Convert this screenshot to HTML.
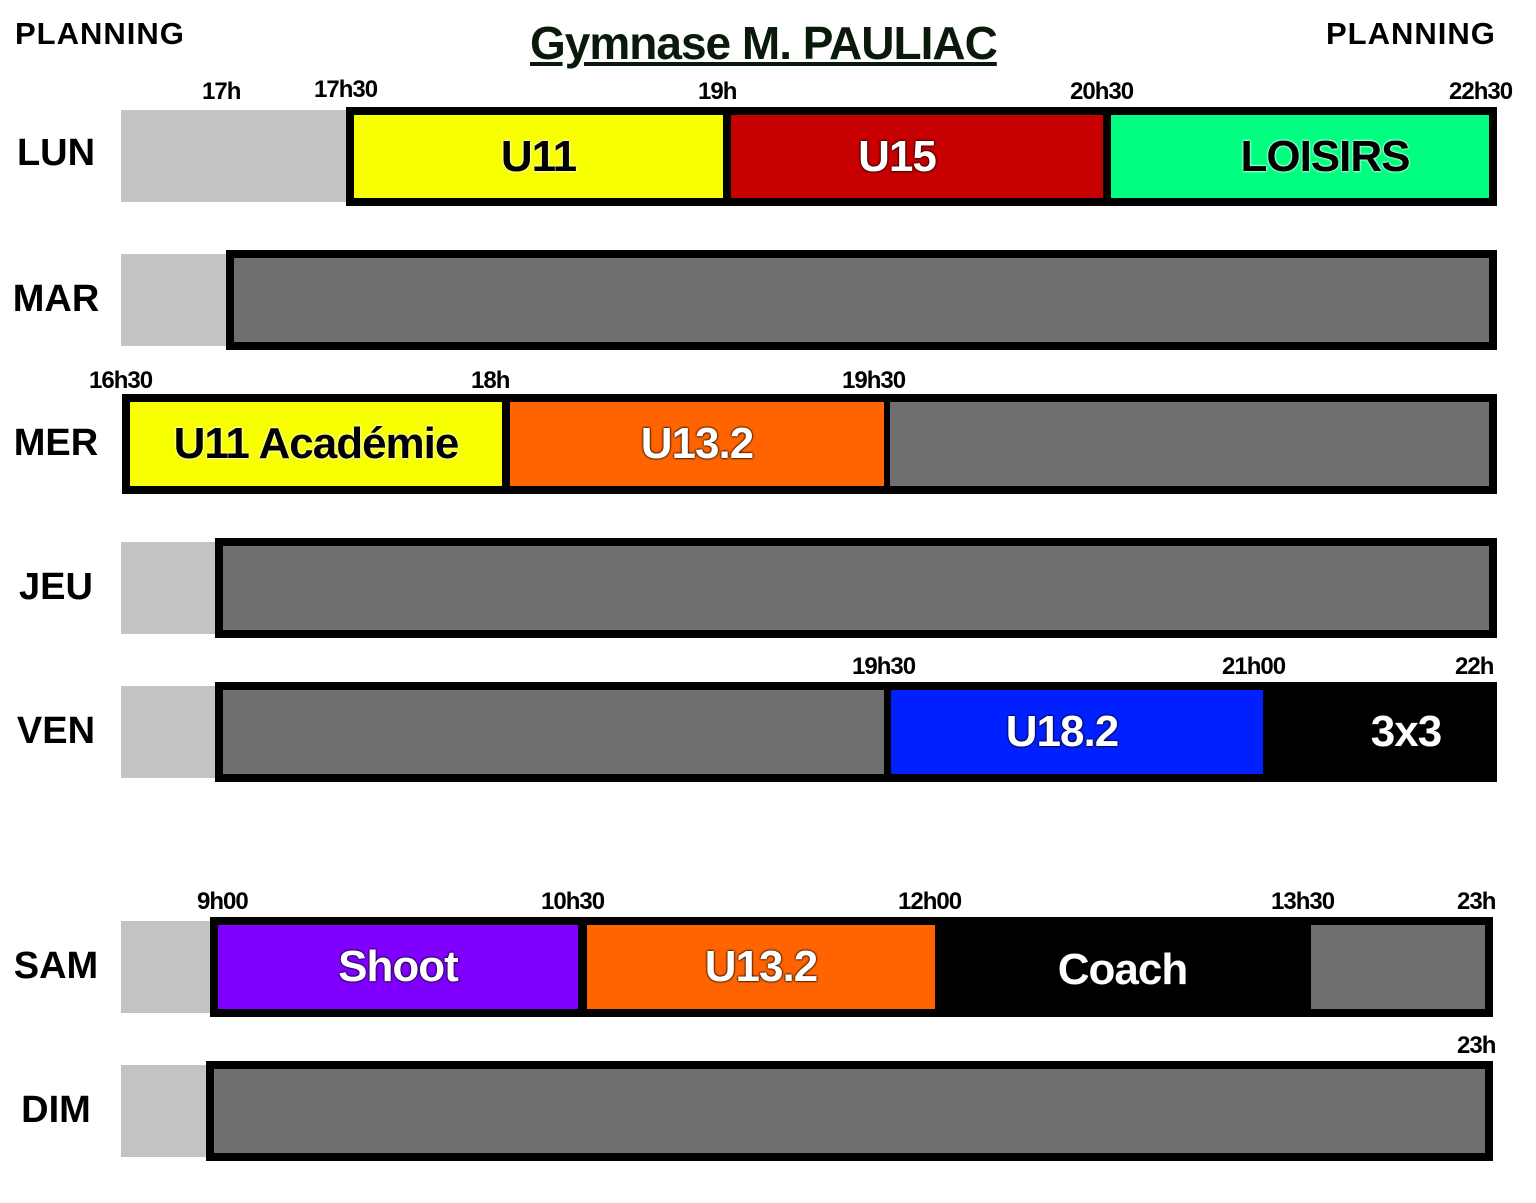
<!DOCTYPE html>
<html><head><meta charset="utf-8"><style>
body{margin:0;width:1536px;height:1203px;background:#fff;position:relative;overflow:hidden;font-family:"Liberation Sans","DejaVu Sans",sans-serif;font-weight:bold}
div{position:absolute;box-sizing:border-box}
.l{background:#c3c3c3}
.b{border:8px solid #000;background:#6f6f6f}
.s{top:0;bottom:0;display:flex;align-items:center;justify-content:center;font-size:44px;letter-spacing:-1px;text-shadow:0 0 2px #fff,0 0 2px #fff}
.w{color:#fff;text-shadow:0 0 2px #000,0 0 2px #000}
.t{font-size:24px;letter-spacing:-1px}
.d{font-size:38px;left:8px;width:96px;text-align:center}
</style></head><body>
<div style="left:15px;top:16px;font-size:31px;letter-spacing:1px">PLANNING</div>
<div style="left:1326px;top:16px;font-size:31px;letter-spacing:1px">PLANNING</div>
<div style="left:530px;top:16px;font-size:46px;color:#0a1a0a;text-decoration:underline;letter-spacing:-1px">Gymnase M. PAULIAC</div>

<div class="t" style="left:202px;top:78px">17h</div>
<div class="t" style="left:314px;top:76px">17h30</div>
<div class="t" style="left:698px;top:78px">19h</div>
<div class="t" style="left:1070px;top:78px">20h30</div>
<div class="t" style="left:1449px;top:78px">22h30</div>
<div class="d" style="top:132px">LUN</div>
<div class="l" style="left:121px;top:110px;width:230px;height:92px"></div>
<div class="b" style="left:346px;top:107px;width:1151px;height:99px;background:#000">
 <div class="s" style="left:0;width:369px;background:#f8ff00">U11</div>
 <div class="s w" style="left:377px;width:372px;background:#c60000;padding-right:40px">U15</div>
 <div class="s" style="left:757px;width:378px;background:#00ff80;padding-left:50px">LOISIRS</div>
</div>

<div class="d" style="top:278px">MAR</div>
<div class="l" style="left:121px;top:254px;width:110px;height:92px"></div>
<div class="b" style="left:226px;top:250px;width:1271px;height:100px"></div>

<div class="t" style="left:89px;top:367px">16h30</div>
<div class="t" style="left:471px;top:367px">18h</div>
<div class="t" style="left:842px;top:367px">19h30</div>
<div class="d" style="top:422px">MER</div>
<div class="b" style="left:122px;top:394px;width:1375px;height:100px;background:#000">
 <div class="s" style="left:0;width:372px;background:#f8ff00">U11 Académie</div>
 <div class="s w" style="left:380px;width:374px;background:#ff6400">U13.2</div>
 <div class="s" style="left:760px;width:599px;background:#6f6f6f"></div>
</div>

<div class="d" style="top:566px">JEU</div>
<div class="l" style="left:121px;top:542px;width:100px;height:92px"></div>
<div class="b" style="left:215px;top:538px;width:1282px;height:100px"></div>

<div class="t" style="left:852px;top:653px">19h30</div>
<div class="t" style="left:1222px;top:653px">21h00</div>
<div class="t" style="left:1455px;top:653px">22h</div>
<div class="d" style="top:710px">VEN</div>
<div class="l" style="left:121px;top:686px;width:100px;height:92px"></div>
<div class="b" style="left:215px;top:682px;width:1282px;height:100px;background:#000">
 <div class="s" style="left:0;width:661px;background:#6f6f6f"></div>
 <div class="s w" style="left:668px;width:372px;background:#0020ff;padding-right:30px">U18.2</div>
 <div class="s w" style="left:1040px;width:226px;background:#000;padding-left:60px">3x3</div>
</div>

<div class="t" style="left:197px;top:888px">9h00</div>
<div class="t" style="left:541px;top:888px">10h30</div>
<div class="t" style="left:898px;top:888px">12h00</div>
<div class="t" style="left:1271px;top:888px">13h30</div>
<div class="t" style="left:1457px;top:888px">23h</div>
<div class="d" style="top:945px">SAM</div>
<div class="l" style="left:121px;top:921px;width:95px;height:92px"></div>
<div class="b" style="left:210px;top:917px;width:1283px;height:100px;background:#000">
 <div class="s w" style="left:0;width:360px;background:#8000ff">Shoot</div>
 <div class="s w" style="left:369px;width:348px;background:#ff6400">U13.2</div>
 <div class="s w" style="left:717px;width:375px;background:#000;padding-top:6px">Coach</div>
 <div class="s" style="left:1093px;width:174px;background:#6f6f6f"></div>
</div>

<div class="t" style="left:1457px;top:1032px">23h</div>
<div class="d" style="top:1089px">DIM</div>
<div class="l" style="left:121px;top:1065px;width:90px;height:92px"></div>
<div class="b" style="left:206px;top:1061px;width:1287px;height:100px"></div>
</body></html>
